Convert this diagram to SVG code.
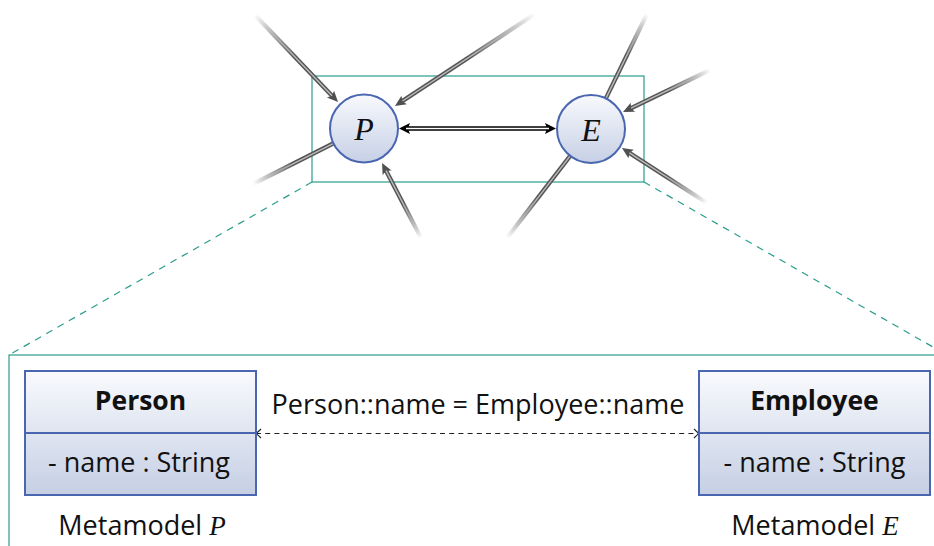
<svg xmlns="http://www.w3.org/2000/svg" width="934" height="546" viewBox="0 0 934 546">
<style>
.ui{font-family:"Open Sans","Noto Sans","Liberation Sans",sans-serif;font-size:27px;fill:#111}
.b{font-weight:bold;font-size:26.5px}
.math{font-family:"Liberation Serif","DejaVu Serif",serif;font-style:italic;font-size:32px;fill:#111}
.node{fill:url(#nodeFill);stroke:#4a66b0;stroke-width:2}
.cls{fill:url(#clsFill);stroke:#4a66b0;stroke-width:2}
.teal{fill:none;stroke:#2a9d8a;stroke-width:1.2}
.tealdash{fill:none;stroke:#2a9d8a;stroke-width:1.2;stroke-dasharray:7 6}
.go{stroke-width:4.4;fill:none;stroke-linecap:butt}
.gi{stroke-width:1.4;fill:none}
</style>
<defs>
<linearGradient id="nodeFill" x1="0" y1="0" x2="0" y2="1">
<stop offset="0" stop-color="#f8f9fd"/><stop offset="1" stop-color="#c6d0e5"/>
</linearGradient>
<linearGradient id="clsFill" x1="0" y1="0" x2="0" y2="1">
<stop offset="0" stop-color="#f9fafd"/><stop offset="1" stop-color="#c5cfe4"/>
</linearGradient>
<linearGradient id="gO">
<stop offset="0" stop-color="#555" stop-opacity="0"/><stop offset="0.5" stop-color="#555" stop-opacity="1"/><stop offset="1" stop-color="#555"/>
</linearGradient>
<linearGradient id="gI">
<stop offset="0" stop-color="#bbb" stop-opacity="0"/><stop offset="0.5" stop-color="#bbb" stop-opacity="1"/><stop offset="1" stop-color="#bbb"/>
</linearGradient>
<linearGradient id="o1" href="#gO" gradientUnits="userSpaceOnUse" x1="255" y1="15" x2="334" y2="98"/>
<linearGradient id="i1" href="#gI" gradientUnits="userSpaceOnUse" x1="255" y1="15" x2="334" y2="98"/>
<linearGradient id="o2" href="#gO" gradientUnits="userSpaceOnUse" x1="535" y1="14" x2="400" y2="103"/>
<linearGradient id="i2" href="#gI" gradientUnits="userSpaceOnUse" x1="535" y1="14" x2="400" y2="103"/>
<linearGradient id="o3" href="#gO" gradientUnits="userSpaceOnUse" x1="253" y1="184" x2="334" y2="143"/>
<linearGradient id="i3" href="#gI" gradientUnits="userSpaceOnUse" x1="253" y1="184" x2="334" y2="143"/>
<linearGradient id="o4" href="#gO" gradientUnits="userSpaceOnUse" x1="421" y1="238" x2="385" y2="168"/>
<linearGradient id="i4" href="#gI" gradientUnits="userSpaceOnUse" x1="421" y1="238" x2="385" y2="168"/>
<linearGradient id="o5" href="#gO" gradientUnits="userSpaceOnUse" x1="647" y1="14" x2="606" y2="98"/>
<linearGradient id="i5" href="#gI" gradientUnits="userSpaceOnUse" x1="647" y1="14" x2="606" y2="98"/>
<linearGradient id="o6" href="#gO" gradientUnits="userSpaceOnUse" x1="710" y1="70" x2="628" y2="109"/>
<linearGradient id="i6" href="#gI" gradientUnits="userSpaceOnUse" x1="710" y1="70" x2="628" y2="109"/>
<linearGradient id="o7" href="#gO" gradientUnits="userSpaceOnUse" x1="707" y1="203" x2="627" y2="151"/>
<linearGradient id="i7" href="#gI" gradientUnits="userSpaceOnUse" x1="707" y1="203" x2="627" y2="151"/>
<linearGradient id="o8" href="#gO" gradientUnits="userSpaceOnUse" x1="507" y1="238" x2="570" y2="156"/>
<linearGradient id="i8" href="#gI" gradientUnits="userSpaceOnUse" x1="507" y1="238" x2="570" y2="156"/>
<marker id="gArrow" markerUnits="userSpaceOnUse" viewBox="-12 -7 20 14" refX="0" refY="0" markerWidth="20" markerHeight="14" orient="auto" overflow="visible">
<path d="M6,0 L-5,-5 Q-2,0 -5,5 Z" fill="#505050"/>
</marker>
<marker id="bArrow" markerUnits="userSpaceOnUse" viewBox="-12 -7 20 14" refX="0" refY="0" markerWidth="20" markerHeight="14" orient="auto-start-reverse" overflow="visible">
<path d="M5,0 L-6,-5.5 Q-3,0 -6,5.5 Z" fill="#000"/>
</marker>
<marker id="openArrow" markerUnits="userSpaceOnUse" viewBox="-8 -6 10 12" refX="0" refY="0" markerWidth="10" markerHeight="12" orient="auto-start-reverse" overflow="visible">
<path d="M-5,-4.5 Q-1.5,-1 0,0 Q-1.5,1 -5,4.5" fill="none" stroke="#222" stroke-width="1.1"/>
</marker>
</defs>

<g id="zoom-frame">
<rect class="teal" x="312" y="76" width="332" height="106"/>
<rect class="teal" x="9" y="355" width="940" height="220"/>
<line class="tealdash" x1="312" y1="182" x2="9" y2="355"/>
<line class="tealdash" x1="644" y1="182" x2="947" y2="355"/>
</g>

<g id="connectors">
<line class="go" stroke="url(#o1)" x1="255" y1="15" x2="333.9" y2="97.7" marker-end="url(#gArrow)"/>
<line class="gi" stroke="url(#i1)" x1="255" y1="15" x2="332" y2="95.7"/>
<line class="go" stroke="url(#o2)" x1="535" y1="14" x2="400" y2="102.7" marker-end="url(#gArrow)"/>
<line class="gi" stroke="url(#i2)" x1="535" y1="14" x2="402.5" y2="101"/>
<line class="go" stroke="url(#o3)" x1="253" y1="184" x2="333.6" y2="143.3"/>
<line class="gi" stroke="url(#i3)" x1="253" y1="184" x2="333.6" y2="143.3"/>
<line class="go" stroke="url(#o4)" x1="421" y1="238" x2="384.8" y2="168.3" marker-end="url(#gArrow)"/>
<line class="gi" stroke="url(#i4)" x1="421" y1="238" x2="386" y2="170.6"/>
<line class="go" stroke="url(#o5)" x1="647" y1="14" x2="605.9" y2="98.4"/>
<line class="gi" stroke="url(#i5)" x1="647" y1="14" x2="605.9" y2="98.4"/>
<line class="go" stroke="url(#o6)" x1="710" y1="70" x2="628.4" y2="109.4" marker-end="url(#gArrow)"/>
<line class="gi" stroke="url(#i6)" x1="710" y1="70" x2="631" y2="108.1"/>
<line class="go" stroke="url(#o7)" x1="707" y1="203" x2="627" y2="151.3" marker-end="url(#gArrow)"/>
<line class="gi" stroke="url(#i7)" x1="707" y1="203" x2="629.4" y2="152.8"/>
<line class="go" stroke="url(#o8)" x1="507" y1="238" x2="570.2" y2="155.9"/>
<line class="gi" stroke="url(#i8)" x1="507" y1="238" x2="570.2" y2="155.9"/>
<line x1="404" y1="128.5" x2="551" y2="128.5" stroke="#000" stroke-width="4.4" marker-start="url(#bArrow)" marker-end="url(#bArrow)"/>
<line x1="406" y1="128.5" x2="549" y2="128.5" stroke="#fff" stroke-width="1.4"/>
<line x1="256" y1="433.5" x2="699" y2="433.5" stroke="#222" stroke-width="1.1" stroke-dasharray="5 4.2" marker-start="url(#openArrow)" marker-end="url(#openArrow)"/>
<text class="ui" x="478" y="414" text-anchor="middle">Person::name = Employee::name</text>
</g>

<g id="node-P">
<circle class="node" cx="364" cy="128.5" r="34"/>
<text class="math" x="364" y="140" text-anchor="middle">P</text>
</g>
<g id="node-E">
<circle class="node" cx="591" cy="129" r="34"/>
<text class="math" x="591" y="140.5" text-anchor="middle">E</text>
</g>

<g id="class-Person">
<rect class="cls" x="25" y="371" width="231" height="124"/>
<line x1="25" y1="433" x2="256" y2="433" stroke="#4a66b0" stroke-width="2"/>
<text class="ui b" x="140.5" y="410" text-anchor="middle">Person</text>
<text class="ui" x="139" y="472" text-anchor="middle">- name : String</text>
<text class="ui" x="142" y="535" text-anchor="middle">Metamodel <tspan class="math" style="font-size:27px">P</tspan></text>
</g>

<g id="class-Employee">
<rect class="cls" x="699" y="371" width="231" height="124"/>
<line x1="699" y1="433" x2="930" y2="433" stroke="#4a66b0" stroke-width="2"/>
<text class="ui b" x="814.5" y="410" text-anchor="middle">Employee</text>
<text class="ui" x="814.5" y="472" text-anchor="middle">- name : String</text>
<text class="ui" x="815" y="535" text-anchor="middle">Metamodel <tspan class="math" style="font-size:27px">E</tspan></text>
</g>
</svg>
